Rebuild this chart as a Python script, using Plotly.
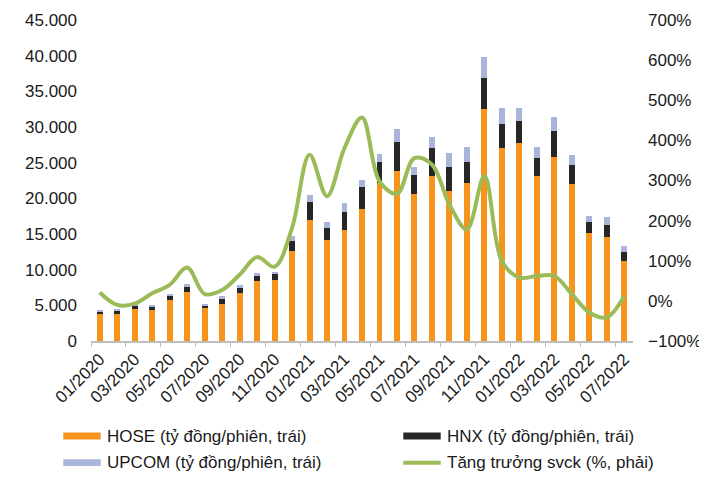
import plotly.graph_objects as go

months = ["01/2020","02/2020","03/2020","04/2020","05/2020","06/2020","07/2020","08/2020","09/2020","10/2020","11/2020","12/2020",
          "01/2021","02/2021","03/2021","04/2021","05/2021","06/2021","07/2021","08/2021","09/2021","10/2021","11/2021","12/2021",
          "01/2022","02/2022","03/2022","04/2022","05/2022","06/2022","07/2022"]

hose = [3730, 3730, 4430, 4290, 5690, 6890, 4570, 5130, 6750, 8380, 8500, 12580,
        17000, 14110, 15600, 18490, 22120, 23850, 20580, 23200, 20960, 22220, 32460, 27010,
        27710, 23200, 25810, 22080, 15090, 14530, 11270]
hnx = [370, 560, 600, 560, 550, 700, 370, 780, 700, 790, 920, 1390,
       2420, 1720, 2470, 3030, 2940, 4000, 2710, 3810, 3400, 2840, 4380, 3410,
       3130, 2420, 3620, 2610, 1630, 1770, 1220]
upcom = [190, 180, 100, 180, 370, 420, 280, 380, 380, 420, 150, 800,
         980, 890, 1210, 1070, 1210, 1870, 1120, 1590, 2050, 2190, 2990, 2280,
         1860, 1630, 1910, 1350, 840, 1120, 790]
growth = [21, -10, -7, 19, 40, 83, 17, 27, 65, 109, 85, 182,
          364, 261, 381, 457, 298, 267, 356, 340, 240, 178, 311, 99,
          58, 62, 62, 17, -29, -41, 12]

labels = ["HOSE (tỷ đồng/phiên, trái)", "HNX (tỷ đồng/phiên, trái)",
          "UPCOM (tỷ đồng/phiên, trái)", "Tăng trưởng svck (%, phải)"]
colors = ["#F7941D", "#262626", "#A9B5DB", "#9BBB59"]

# figure size compensates the 8px default body margin of the page
W, H = 699, 476
L, R, T, B = 83, 74, 12, 143
PW, PH = W - L - R, H - T - B

def px(x):
    return (x - L) / PW

def py(y):
    return (H - B - y) / PH

fig = go.Figure()
fig.add_trace(go.Bar(x=months, y=hose, name=labels[0], marker=dict(color=colors[0], line_width=0)))
fig.add_trace(go.Bar(x=months, y=hnx, name=labels[1], marker=dict(color=colors[1], line_width=0)))
fig.add_trace(go.Bar(x=months, y=upcom, name=labels[2], marker=dict(color=colors[2], line_width=0)))
fig.add_trace(go.Scatter(x=months, y=growth, name=labels[3], yaxis="y2", mode="lines",
                         line=dict(color=colors[3], width=4, shape="spline", smoothing=1.0)))

font = dict(family="Liberation Sans, Arial, sans-serif", size=17, color="#1a1a1a")

fig.update_layout(
    width=W, height=H,
    margin=dict(l=L, r=R, t=T, b=B, autoexpand=False),
    paper_bgcolor="white", plot_bgcolor="white",
    barmode="stack", bargap=0.66,
    separators=",.",
    showlegend=False,
    font=font,
    xaxis=dict(type="category", tickangle=-45, dtick=2, tick0=0, tickson="boundaries",
               ticks="outside", ticklen=4, tickcolor="#BFBFBF",
               showline=True, linecolor="#BFBFBF", linewidth=1.5, showgrid=False,
               tickfont=dict(size=17)),
    yaxis=dict(range=[0, 45000], dtick=5000, tickformat=",.0f", showgrid=False, zeroline=False,
               ticks="", showline=False, ticklabelstandoff=13),
    yaxis2=dict(range=[-100, 700], dtick=100, ticksuffix="%", overlaying="y", side="right",
                showgrid=False, zeroline=False, showline=False, ticklabelstandoff=14),
)

legend_items = [
    (55.3, 92.7, 428.0, "bar"),
    (395.3, 432.7, 428.0, "bar"),
    (55.3, 92.7, 454.7, "bar"),
    (395.3, 432.7, 454.7, "line"),
]
for (x0, x1, yc, kind), txt, col in zip(legend_items, labels, colors):
    if kind == "bar":
        fig.add_shape(type="rect", xref="paper", yref="paper",
                      x0=px(x0), x1=px(x1), y0=py(yc + 3.4), y1=py(yc - 3.4),
                      fillcolor=col, line_width=0)
    else:
        fig.add_shape(type="line", xref="paper", yref="paper",
                      x0=px(x0), x1=px(x1), y0=py(yc), y1=py(yc),
                      line=dict(color=col, width=4))
    fig.add_annotation(xref="paper", yref="paper", x=px(x1 + 4), y=py(yc), text=txt,
                       showarrow=False, xanchor="left", yanchor="middle", font=font)

fig.write_html("out.html")
